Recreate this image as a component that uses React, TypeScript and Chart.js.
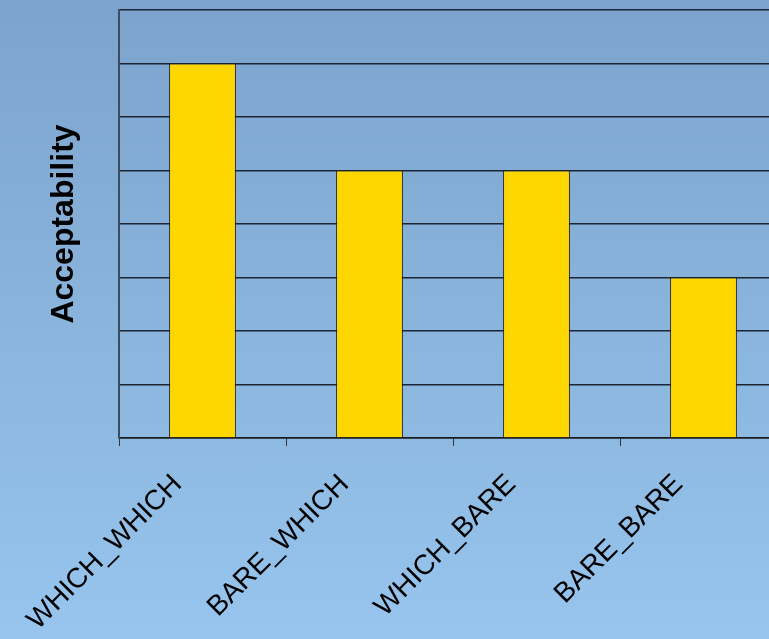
import { useEffect, useRef } from "react";
import { Chart, registerables } from "chart.js";

Chart.register(...registerables);

const categories = ["WHICH_WHICH", "BARE_WHICH", "WHICH_BARE", "BARE_BARE"];
const values = [7, 5, 5, 3];
const yMin = 0;
const yMax = 8;
const yStep = 1;
const yTitle = "Acceptability";

export default function App() {
  const ref = useRef<HTMLCanvasElement>(null);
  useEffect(() => {
    document.body.style.margin = "0";
    const chart = new Chart(ref.current!, {
      type: "bar",
      data: {
        labels: categories,
        datasets: [
          {
            data: values,
            backgroundColor: "#FFD700",
            borderColor: "#1e1e1e",
            borderWidth: 1,
            barPercentage: 0.4,
            categoryPercentage: 1,
          },
        ],
      },
      options: {
        responsive: false,
        animation: false,
        layout: { padding: { top: 10, left: 0, right: 0, bottom: 0 } },
        plugins: { legend: { display: false }, tooltip: { enabled: false } },
        scales: {
          x: {
            grid: {
              display: true,
              offset: true,
              drawOnChartArea: false,
              drawTicks: true,
              tickLength: 8,
              color: "#333",
              lineWidth: 1,
            },
            border: { display: true, color: "#1a1a1a", width: 1.5 },
            ticks: {
              minRotation: 45,
              maxRotation: 45,
              autoSkip: false,
              color: "#000",
              padding: 22,
              labelOffset: -25,
              font: { family: "'Liberation Sans', Arial, sans-serif", size: 28 },
            },
            afterFit: (s: any) => {
              s.height = 201;
            },
          },
          y: {
            min: yMin,
            max: yMax,
            ticks: { stepSize: yStep, display: false },
            grid: { color: "#1b2533", lineWidth: 1.5, drawTicks: false },
            border: { display: true, color: "#3c4c5e", width: 2 },
            title: {
              display: true,
              text: yTitle,
              color: "#000",
              font: { family: "'Liberation Sans', Arial, sans-serif", size: 32, weight: "bold" },
              padding: { top: 45, bottom: 0 },
            },
            afterFit: (s: any) => {
              s.width = 119;
            },
          },
        },
      },
    });
    return () => chart.destroy();
  }, []);
  return (
    <div
      style={{
        position: "fixed",
        left: 0,
        top: 0,
        width: 769,
        height: 639,
        overflow: "hidden",
        background: "linear-gradient(to bottom, #7ca3cb 0%, #97c5ed 100%)",
      }}
    >
      <canvas ref={ref} width={787} height={639} style={{ display: "block" }} />
    </div>
  );
}
